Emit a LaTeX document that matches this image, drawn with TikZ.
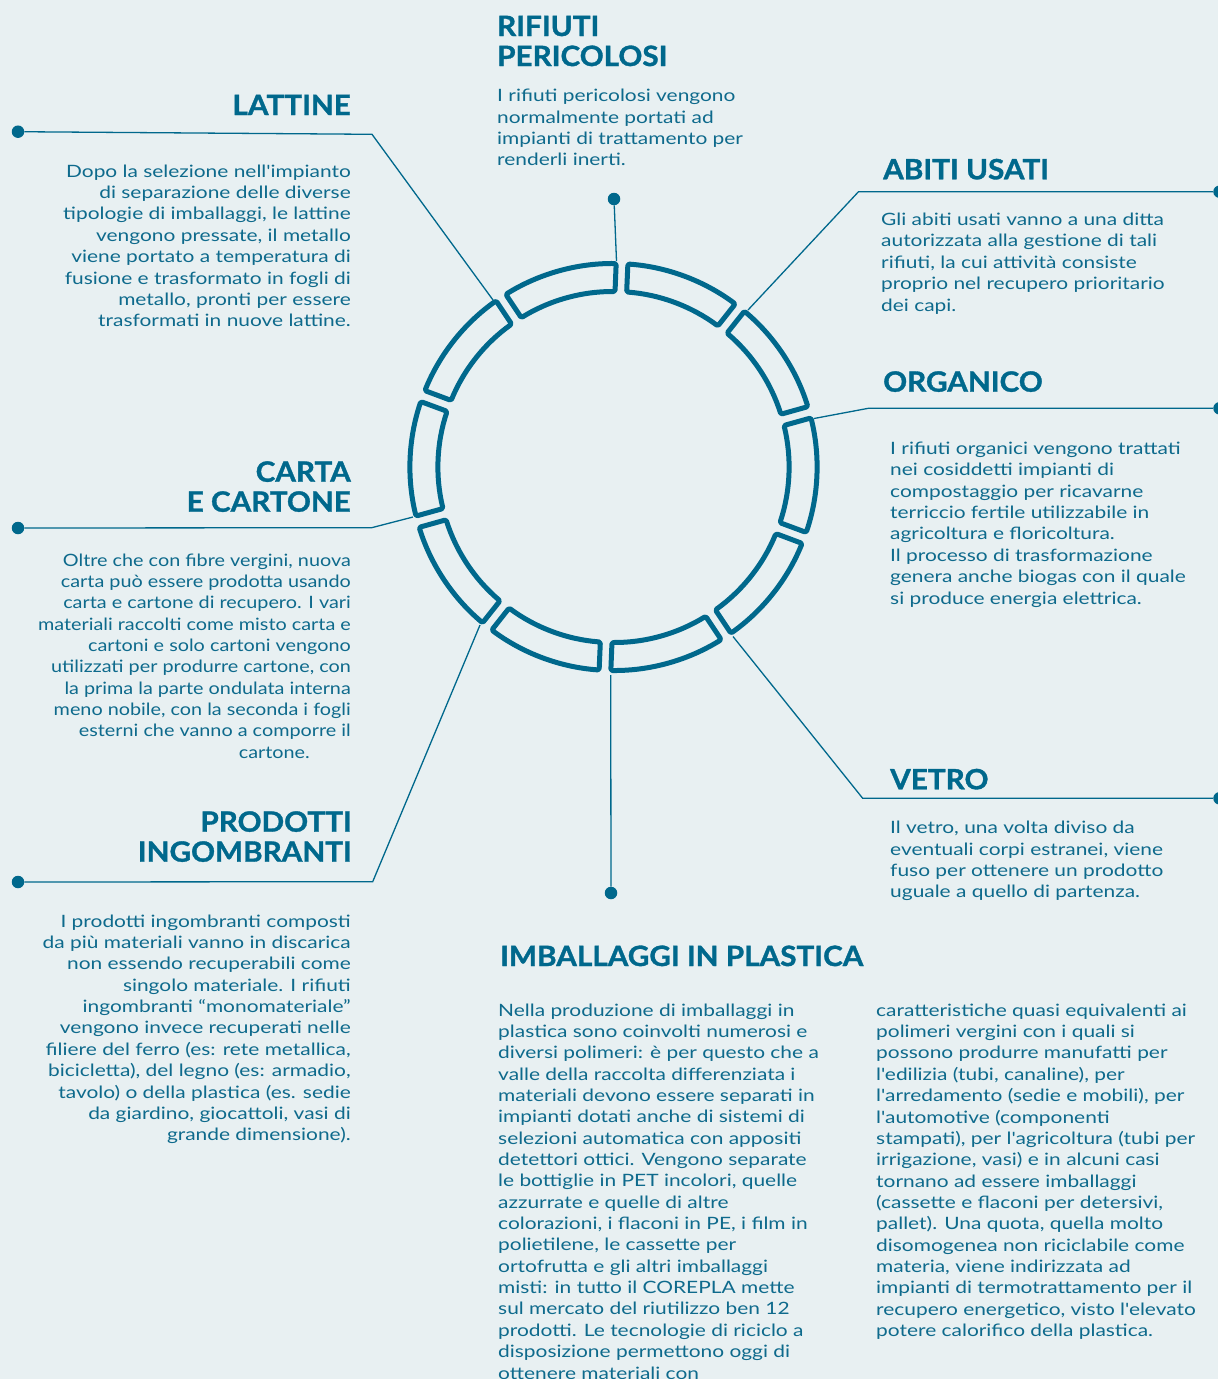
\documentclass[tikz,border=0pt]{standalone}
\usepackage{fontspec}
\setmainfont{Lato}
\newfontfamily\bodyfont{Lato}[FakeStretch=1.23]
\newfontfamily\cartafont{Lato}[FakeStretch=1.165]
\newfontfamily\headfont{Lato}[FakeStretch=1.06, FakeBold=1.2]
\definecolor{bg}{RGB}{232,240,242}
\definecolor{blu}{RGB}{0,104,140}
\definecolor{txt}{RGB}{14,106,140}
\begin{document}
\begin{tikzpicture}[x=1pt,y=-1pt,
  body/.style={inner sep=0pt, text=txt, font=\bodyfont\fontsize{17}{21.35}\selectfont},
  bodyl/.style={body, align=left, anchor=base west},
  bodyr/.style={body, align=right, anchor=base east},
  head/.style={inner sep=0pt, text=blu, font=\headfont\fontsize{28}{30}\selectfont\bfseries},
  headl/.style={head, align=left, anchor=base west},
  headr/.style={head, align=right, anchor=base east},
  conn/.style={draw=blu, line width=1.3pt},
  dot/.style={circle, fill=blu, inner sep=0pt, minimum size=12.5pt},
  seg/.style={draw=blu, line width=5pt, rounded corners=1.5pt, line join=round}]
\fill[bg] (0,0) rectangle (1218,1379);
\path[use as bounding box] (0,0) rectangle (1218,1379);

% ring
\begin{scope}[shift={(613.5,467)}, y=1pt]
  \foreach \k in {0,...,9} {
    \pgfmathsetmacro\aa{87.6+36*\k}
    \pgfmathsetmacro\bb{87.6+36*(\k+1)}
    \draw[seg] ({\aa+1.65}:203.5) arc[start angle={\aa+1.65}, end angle={\bb-1.65}, radius=203.5]
      -- ({\bb-1.9}:175.5) arc[start angle={\bb-1.9}, end angle={\aa+1.9}, radius=175.5] -- cycle;
  }
\end{scope}

% connector points
\node[dot] (dRif) at (614,199) {};
\coordinate (rRif) at (616.5,261);
\node[dot] (dLat) at (18,131.7) {};
\coordinate (cLat) at (372,134.3);
\coordinate (rLat) at (493,300);
\node[dot] (dAbi) at (1219.5,191.7) {};
\coordinate (cAbi) at (858.5,191.7);
\coordinate (rAbi) at (748,310);
\node[dot] (dOrg) at (1219.5,408.3) {};
\coordinate (cOrg) at (868.3,408.3);
\coordinate (rOrg) at (814,418.5);
\node[dot] (dCar) at (18,528) {};
\coordinate (cCar) at (371.7,527.7);
\coordinate (rCar) at (413,517);
\node[dot] (dPro) at (18,882) {};
\coordinate (cPro) at (372.7,881.7);
\coordinate (rPro) at (480,625);
\node[dot] (dImb) at (611,893) {};
\coordinate (rImb) at (610.7,675);
\node[dot] (dVet) at (1219.5,798.3) {};
\coordinate (cVet) at (862.7,798.3);
\coordinate (rVet) at (733,636.5);

\draw[conn] (dRif) -- (rRif);
\draw[conn] (dLat) -- (cLat) -- (rLat);
\draw[conn] (dAbi) -- (cAbi) -- (rAbi);
\draw[conn] (dOrg) -- (cOrg) -- (rOrg);
\draw[conn] (dCar) -- (cCar) -- (rCar);
\draw[conn] (dPro) -- (cPro) -- (rPro);
\draw[conn] (dImb) -- (rImb);
\draw[conn] (dVet) -- (cVet) -- (rVet);

% headings (anchor = baseline of last line)
\node[headl] (hRif) at (497,66) {RIFIUTI\\PERICOLOSI};
\node[headr] (hLat) at (351,115) {LATTINE};
\node[headl] (hAbi) at (883,179.3) {ABITI USATI};
\node[headl] (hOrg) at (883,391.7) {ORGANICO};
\node[headr] (hCar) at (351,511.7) {CARTA\\E CARTONE};
\node[headr] (hPro) at (352,861.7) {PRODOTTI\\INGOMBRANTI};
\node[headl] (hVet) at (890,789.3) {VETRO};
\node[headl] (hImb) at (500,966) {IMBALLAGGI IN PLASTICA};

% bodies (anchor = baseline of last line)
\node[bodyl] (tRif) at (497,165.8) {I rifiuti pericolosi vengono\\normalmente portati ad\\impianti di trattamento per\\renderli inerti.};
\node[bodyr] (tLat) at (351,326.7) {Dopo la selezione nell'impianto\\di separazione delle diverse\\tipologie di imballaggi, le lattine\\vengono pressate, il metallo\\viene portato a temperatura di\\fusione e trasformato in fogli di\\metallo, pronti per essere\\trasformati in nuove lattine.};
\node[bodyl] (tAbi) at (881,311) {Gli abiti usati vanno a una ditta\\autorizzata alla gestione di tali\\rifiuti, la cui attività consiste\\proprio nel recupero prioritario\\dei capi.};
\node[bodyl] (tOrg) at (890,604) {I rifiuti organici vengono trattati\\nei cosiddetti impianti di\\compostaggio per ricavarne\\terriccio fertile utilizzabile in\\agricoltura e floricoltura.\\Il processo di trasformazione\\genera anche biogas con il quale\\si produce energia elettrica.};
\node[bodyr, font=\cartafont\fontsize{17}{21.3}\selectfont] (tCar) at (351,758) {Oltre che con fibre vergini, nuova\\carta può essere prodotta usando\\carta e cartone di recupero. I vari\\materiali raccolti come misto carta e\\cartoni e solo cartoni vengono\\utilizzati per produrre cartone, con\\la prima la parte ondulata interna\\meno nobile, con la seconda i fogli\\esterni che vanno a comporre il\hspace*{21pt}\\cartone.\hspace*{41pt}};
\node[bodyr] (tPro) at (351,1140.7) {I prodotti ingombranti composti\\da più materiali vanno in discarica\\non essendo recuperabili come\\singolo materiale. I rifiuti\\ingombranti “monomateriale”\\vengono invece recuperati nelle\\filiere del ferro (es: rete metallica,\\bicicletta), del legno (es: armadio,\\tavolo) o della plastica (es. sedie\\da giardino, giocattoli, vasi di\\grande dimensione).};
\node[bodyl] (tVet) at (890,897.7) {Il vetro, una volta diviso da\\eventuali corpi estranei, viene\\fuso per ottenere un prodotto\\uguale a quello di partenza.};
\node[bodyl] (tImb1) at (498,1379) {Nella produzione di imballaggi in\\plastica sono coinvolti numerosi e\\diversi polimeri: è per questo che a\\valle della raccolta differenziata i\\materiali devono essere separati in\\impianti dotati anche di sistemi di\\selezioni automatica con appositi\\detettori ottici. Vengono separate\\le bottiglie in PET incolori, quelle\\azzurrate e quelle di altre\\colorazioni, i flaconi in PE, i film in\\polietilene, le cassette per\\ortofrutta e gli altri imballaggi\\misti: in tutto il COREPLA mette\\sul mercato del riutilizzo ben 12\\prodotti. Le tecnologie di riciclo a\\disposizione permettono oggi di\\ottenere materiali con};
\node[bodyl] (tImb2) at (876,1336.5) {caratteristiche quasi equivalenti ai\\polimeri vergini con i quali si\\possono produrre manufatti per\\l'edilizia (tubi, canaline), per\\l'arredamento (sedie e mobili), per\\l'automotive (componenti\\stampati), per l'agricoltura (tubi per\\irrigazione, vasi) e in alcuni casi\\tornano ad essere imballaggi\\(cassette e flaconi per detersivi,\\pallet). Una quota, quella molto\\disomogenea non riciclabile come\\materia, viene indirizzata ad\\impianti di termotrattamento per il\\recupero energetico, visto l'elevato\\potere calorifico della plastica.};
\end{tikzpicture}
\end{document}
